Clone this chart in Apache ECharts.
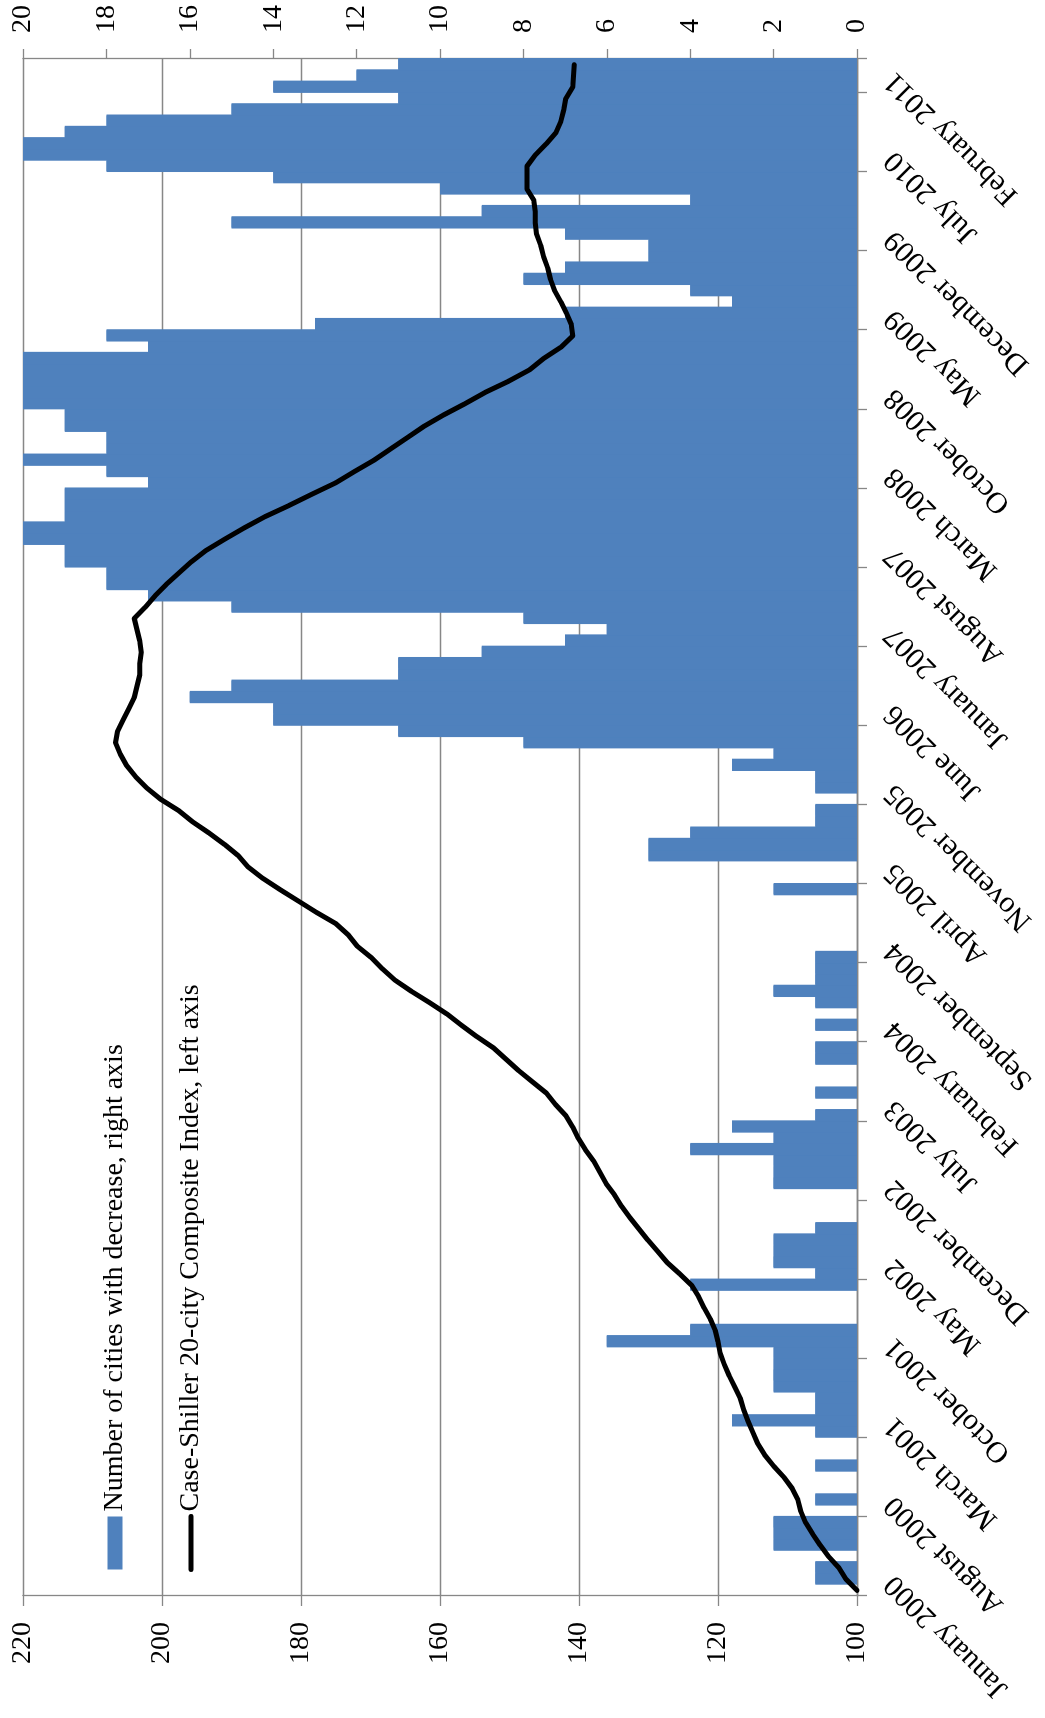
<!DOCTYPE html>
<html>
<head>
<meta charset="utf-8">
<script src="https://cdn.jsdelivr.net/npm/echarts@6/dist/echarts.min.js"></script>
<style>
  html, body { margin: 0; padding: 0; background: #ffffff; overflow: hidden; width: 1045px; height: 1718px; }
  /* the chart is laid out landscape and turned a quarter turn counter-clockwise */
  #frame {
    position: absolute; left: 0; top: 0;
    width: 1718px; height: 1045px;
    transform-origin: 0 0;
    transform: translate(0px, 1718px) rotate(-90deg);
  }
</style>
</head>
<body>
<div id="frame"></div>
<script>
// Monthly categories, January 2000 to April 2011
const MONTH_NAMES = ['January', 'February', 'March', 'April', 'May', 'June', 'July',
  'August', 'September', 'October', 'November', 'December'];
const FIRST_YEAR = 2000;
const MONTH_COUNT = 136;
const categories = [];
for (let i = 0; i < MONTH_COUNT; i++) {
  categories.push(MONTH_NAMES[i % 12] + ' ' + (FIRST_YEAR + Math.floor(i / 12)));
}

// Number of the 20 cities whose index fell that month (right axis)
const citiesDecreasing = [
  0, 1, 1, 0, 2, 2, 2, 0, 1, 0, 0, 1,          // 2000
  0, 0, 1, 3, 1, 1, 2, 2, 2, 2, 6, 4,          // 2001
  0, 0, 0, 4, 1, 2, 2, 2, 1, 0, 0, 0,          // 2002
  2, 2, 2, 4, 2, 3, 1, 0, 1, 0, 0, 1,          // 2003
  1, 0, 1, 0, 1, 2, 1, 1, 1, 0, 0, 0,          // 2004
  0, 0, 2, 0, 0, 5, 5, 4, 1, 1, 0, 1,          // 2005
  1, 3, 2, 8, 11, 14, 14, 16, 15, 11, 11, 9,   // 2006
  7, 6, 8, 15, 17, 18, 18, 19, 19, 20, 20, 19, // 2007
  19, 19, 17, 18, 20, 18, 18, 19, 19, 20, 20, 20, // 2008
  20, 20, 17, 18, 13, 7, 3, 4, 8, 7, 5, 5,     // 2009
  7, 15, 9, 4, 10, 14, 18, 20, 20, 19, 18, 15, // 2010
  11, 14, 12, 11                               // 2011
];

// Case-Shiller 20-city composite index, January 2000 = 100 (left axis)
const caseShiller20 = [
  100.0, 101.6, 102.6, 104.1, 105.3, 106.4, 107.4, 108.1, 108.5, 109.3, 110.5, 112.0,
  113.3, 114.3, 115.0, 115.7, 116.3, 116.8, 117.6, 118.4, 119.1, 119.7, 120.0, 120.4,
  121.1, 122.0, 122.8, 123.8, 125.5, 127.3, 128.7, 130.1, 131.4, 132.7, 133.9, 134.9,
  136.1, 137.0, 137.9, 139.1, 140.1, 140.9, 141.9, 143.4, 144.7, 146.7, 148.7, 150.5,
  152.3, 154.7, 156.9, 159.0, 161.5, 164.1, 166.5, 168.3, 169.9, 171.9, 173.2, 175.0,
  177.8, 180.4, 183.0, 185.5, 187.6, 189.0, 191.0, 193.2, 195.6, 197.6, 200.2, 202.2,
  203.8, 205.1, 206.0, 206.7, 206.4, 205.6, 204.8, 204.0, 203.6, 203.2, 203.2, 203.0,
  203.2, 203.6, 204.0, 202.4, 201.0, 199.4, 197.6, 195.8, 193.7, 191.0, 188.2, 185.2,
  181.7, 178.4, 175.0, 172.3, 169.5, 167.1, 164.7, 162.3, 159.5, 156.4, 153.5, 150.1,
  147.1, 145.1, 142.6, 140.9, 141.1, 141.8, 142.6, 143.5, 144.1, 144.5, 145.1, 145.5,
  146.1, 146.3, 146.3, 146.5, 147.5, 147.5, 147.5, 146.3, 144.7, 143.3, 142.6, 142.2,
  141.9, 140.9, 140.8, 140.7
];

// Axis ranges
const indexAxis = { min: 100, max: 220, step: 20 };
const cityAxis = { min: 0, max: 20, step: 2 };
const LABEL_EVERY = 7;

const barName = 'Number of cities with decrease, right axis';
const lineName = 'Case-Shiller 20-city Composite Index, left axis';

const FONT = '"Liberation Serif", "Times New Roman", serif';
const GREY = '#878787';
const BLUE = '#4F81BD';
const CLEAR = 'rgba(0,0,0,0)';

const chart = echarts.init(document.getElementById('frame'), null, { renderer: 'canvas', width: 1718, height: 1045 });

chart.setOption({
  animation: false,
  backgroundColor: '#ffffff',
  textStyle: { fontFamily: FONT },
  grid: { left: 122, right: 59, top: 23, bottom: 188, containLabel: false, outerBoundsMode: 'none' },
  legend: {
    orient: 'vertical',
    left: 141,
    top: 96,
    itemWidth: 53,
    itemHeight: 15,
    itemGap: 48,
    textStyle: { fontFamily: FONT, fontSize: 28, color: '#000', lineHeight: 28 },
    data: [
      { name: barName, icon: 'rect', itemStyle: { shadowColor: CLEAR, shadowOffsetX: 0 } },
      {
        name: lineName,
        lineStyle: { color: '#000', width: 5, cap: 'round' },
        itemStyle: { color: CLEAR, borderColor: CLEAR, borderWidth: 0, opacity: 0 }
      }
    ]
  },
  xAxis: {
    type: 'category',
    data: categories,
    boundaryGap: true,
    axisLine: { lineStyle: { color: GREY, width: 1.3 } },
    axisTick: { show: true, interval: LABEL_EVERY - 1, length: 10, lineStyle: { color: GREY, width: 1.3 } },
    axisLabel: {
      interval: LABEL_EVERY - 1,
      rotate: 45,
      margin: 22,
      verticalAlign: 'top',
      fontFamily: FONT,
      fontSize: 30,
      color: '#000'
    },
    splitLine: { show: false }
  },
  yAxis: [
    {
      type: 'value',
      position: 'left',
      min: indexAxis.min,
      max: indexAxis.max,
      interval: indexAxis.step,
      axisLine: { show: true, lineStyle: { color: GREY, width: 1.3 } },
      axisTick: { show: true, length: 10, lineStyle: { color: GREY, width: 1.3 } },
      axisLabel: { margin: 26, fontFamily: FONT, fontSize: 28, color: '#000' },
      splitLine: { show: true, lineStyle: { color: GREY, width: 1.3 } }
    },
    {
      type: 'value',
      position: 'right',
      min: cityAxis.min,
      max: cityAxis.max,
      interval: cityAxis.step,
      axisLine: { show: true, lineStyle: { color: GREY, width: 1.3 } },
      axisTick: { show: true, length: 10, lineStyle: { color: GREY, width: 1.3 } },
      axisLabel: { margin: 26, fontFamily: FONT, fontSize: 28, color: '#000' },
      splitLine: { show: false }
    }
  ],
  series: [
    {
      name: barName,
      type: 'bar',
      yAxisIndex: 1,
      data: citiesDecreasing,
      barCategoryGap: '0%',
      barGap: '0%',
      // a one-pixel shadow in the fill colour closes the seams between neighbouring bars
      itemStyle: { color: BLUE, shadowColor: BLUE, shadowBlur: 0, shadowOffsetX: 1, shadowOffsetY: 0 },
      z: 2
    },
    {
      name: lineName,
      type: 'line',
      yAxisIndex: 0,
      data: caseShiller20,
      symbol: 'none',
      smooth: false,
      lineStyle: { color: '#000', width: 5, cap: 'round', join: 'round' },
      itemStyle: { color: '#000' },
      z: 3
    }
  ]
});
</script>
</body>
</html>
